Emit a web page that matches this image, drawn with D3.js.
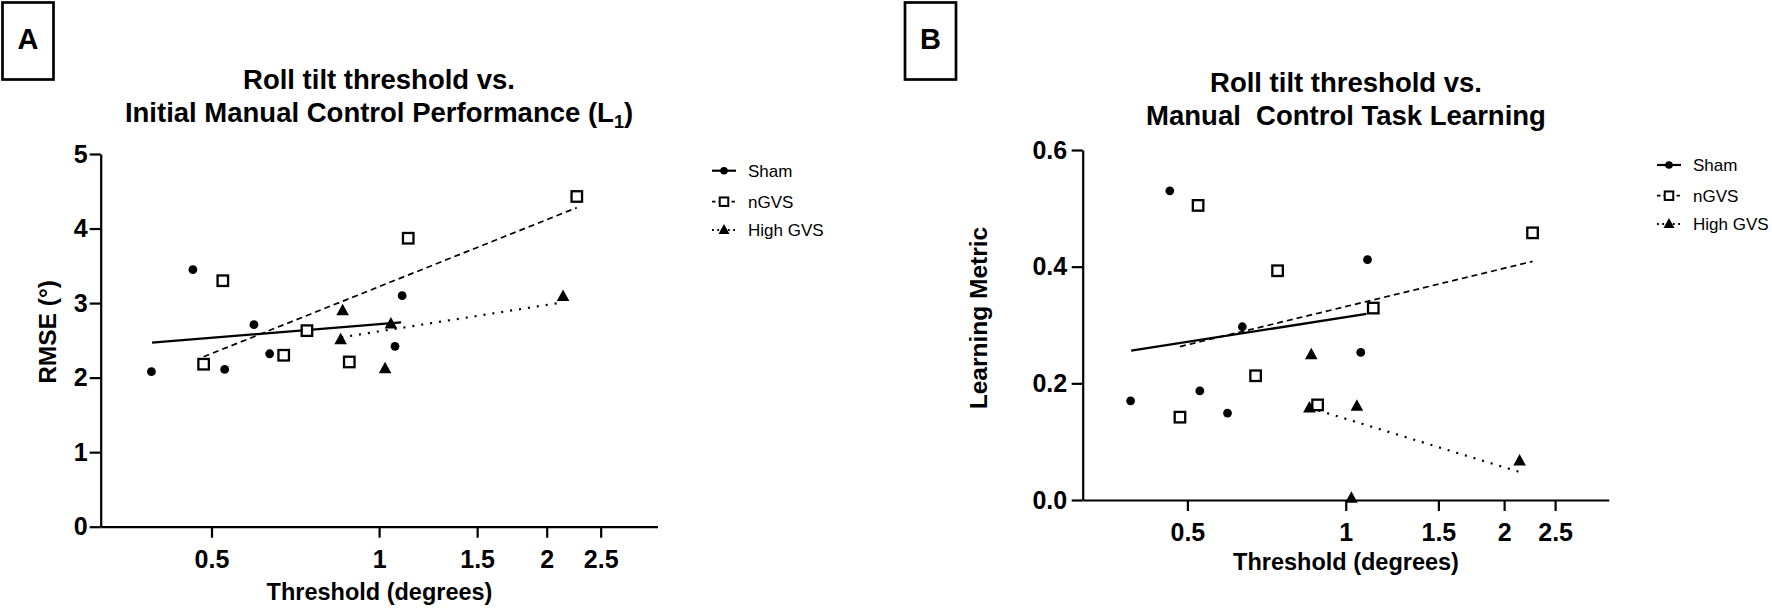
<!DOCTYPE html>
<html>
<head>
<meta charset="utf-8">
<script src="https://cdn.jsdelivr.net/npm/d3@7"></script>
<style>
	body { margin: 0; background: #fff; }
	svg { display: block; }
</style>
</head>
<body>
<div class="chart"></div>
<script>
// Threshold (degrees) per subject, one list per condition (same subjects in both panels).
var thresholdSham = [0.390, 0.463, 0.528, 0.596, 0.636, 1.100, 1.068],
	thresholdNGVS = [0.484, 0.524, 0.674, 0.742, 0.884, 1.128, 2.265],
	thresholdHigh = [0.860, 0.853, 1.050, 1.025, 2.140];

// Panel A: RMSE (deg).
var rmseSham = [2.08, 3.45, 2.11, 2.71, 2.32, 3.10, 2.42],
	rmseNGVS = [2.18, 3.30, 2.30, 2.63, 2.21, 3.87, 4.43],
	rmseHigh = [2.90, 2.51, 2.72, 2.12, 3.09];

// Panel B: learning metric.
var learnSham = [0.170, 0.530, 0.187, 0.149, 0.297, 0.412, 0.253],
	learnNGVS = [0.142, 0.505, 0.213, 0.393, 0.163, 0.329, 0.458],
	learnHigh = [0.249, 0.158, 0.161, 0.003, 0.067];

// Fit lines, [threshold, value] at both ends.
var fitRmseSham = [[0.391, 2.47], [1.095, 2.74]],
	fitRmseNGVS = [[0.484, 2.28], [2.265, 4.28]],
	fitRmseHigh = [[0.855, 2.54], [2.140, 3.01]];
var fitLearnSham = [[0.391, 0.256], [1.095, 0.319]],
	fitLearnNGVS = [[0.484, 0.263], [2.265, 0.409]],
	fitLearnHigh = [[0.855, 0.158], [2.140, 0.048]];

var groupNames = ['Sham', 'nGVS', 'High GVS'];
var thresholdTicks = [0.5, 1, 1.5, 2, 2.5];
var rmseTicks = [0, 1, 2, 3, 4, 5];
var learnTicks = [0, 0.2, 0.4, 0.6];

var fontFamily = '"Liberation Sans", Arial, Helvetica, sans-serif',
	axisWidth = 2.2;

var svg = d3.select('.chart').append('svg')
	.attr('width', 1772)
	.attr('height', 608)
	.attr('font-family', fontFamily)
	.attr('fill', '#000');
svg.append('rect').attr('width', 1772).attr('height', 608).attr('fill', '#fff');

function trianglePath(w, h) {
	return 'M0,' + (-h * 0.6) + 'L' + (w / 2) + ',' + (h * 0.4) + 'L' + (-w / 2) + ',' + (h * 0.4) + 'Z';
}

// draws one marker of the given group at 0,0 inside g
function marker(g, group, big) {
	if (group === 0) {
		g.append('circle').attr('r', big ? 4.4 : 3.8).attr('fill', '#000');
	} else if (group === 1) {
		var s = big ? 10.5 : 8.5;
		g.append('rect')
			.attr('x', -s / 2).attr('y', -s / 2)
			.attr('width', s).attr('height', s)
			.attr('fill', '#fff')
			.attr('stroke', '#000')
			.attr('stroke-width', big ? 2.3 : 2);
	} else {
		g.append('path')
			.attr('d', big ? trianglePath(12.6, 11.5) : trianglePath(11, 10))
			.attr('fill', '#000');
	}
}

var lineStyles = [
	{width: 2.3, dash: null},
	{width: 1.7, dash: '6,4'},
	{width: 2.2, dash: '2,7'}
];

function drawPanel(p) {
	var x = d3.scaleLog().domain([Math.pow(10, -0.5), Math.pow(10, 0.5)]).range([p.left, p.right]);
	var y = d3.scaleLinear().domain(p.yDomain).range([p.bottom, p.top]);

	// panel letter in its box
	svg.append('rect')
		.attr('x', p.boxX).attr('y', 2.5)
		.attr('width', 51).attr('height', 77)
		.attr('fill', 'none')
		.attr('stroke', '#000')
		.attr('stroke-width', 2.7);
	svg.append('text')
		.attr('x', p.boxX + 25.5).attr('y', 49)
		.attr('text-anchor', 'middle')
		.attr('font-size', 29)
		.attr('font-weight', 'bold')
		.text(p.letter);

	// title, two lines
	var title = svg.append('text')
		.attr('text-anchor', 'middle')
		.attr('font-size', 27.5)
		.attr('font-weight', 'bold')
		.style('white-space', 'pre');
	title.append('tspan').attr('x', p.titleX).attr('y', p.titleY).text(p.title[0]);
	var second = title.append('tspan').attr('x', p.titleX).attr('y', p.titleY + 32.5).text(p.title[1]);
	if (p.subscript) {
		second.append('tspan').attr('font-size', 18).attr('dy', 6).text(p.subscript);
		second.append('tspan').attr('dy', -6).text(')');
	}

	// axes
	var gx = svg.append('g')
		.attr('transform', 'translate(0,' + p.bottom + ')')
		.call(d3.axisBottom(x)
			.tickValues(thresholdTicks)
			.tickFormat(function(d) { return String(d); })
			.tickSize(11)
			.tickSizeOuter(0));
	var gy = svg.append('g')
		.attr('transform', 'translate(' + p.left + ',0)')
		.call(d3.axisLeft(y)
			.tickValues(p.yTicks)
			.tickFormat(p.yFormat)
			.tickSize(11)
			.tickPadding(p.yPad)
			.tickSizeOuter(0));
	[gx, gy].forEach(function(g) {
		g.attr('font-family', null).attr('font-size', null);
		g.select('.domain').attr('stroke-width', axisWidth);
		g.selectAll('.tick line').attr('stroke-width', axisWidth);
		g.selectAll('.tick text')
			.attr('font-size', 25)
			.attr('font-weight', 'bold')
			.attr('fill', '#000');
	});
	gx.selectAll('.tick text').attr('y', 41).attr('dy', null);

	svg.append('text')
		.attr('x', p.xLabelX).attr('y', p.xLabelY)
		.attr('text-anchor', 'middle')
		.attr('font-size', 23.5)
		.attr('font-weight', 'bold')
		.text('Threshold (degrees)');
	svg.append('text')
		.attr('transform', 'translate(' + p.yLabelX + ',' + p.yLabelY + ') rotate(-90)')
		.attr('text-anchor', 'middle')
		.attr('font-size', 24.5)
		.attr('font-weight', 'bold')
		.text(p.yLabel);

	// fit lines
	p.fits.forEach(function(fit, i) {
		svg.append('line')
			.attr('x1', x(fit[0][0])).attr('y1', y(fit[0][1]))
			.attr('x2', x(fit[1][0])).attr('y2', y(fit[1][1]))
			.attr('stroke', '#000')
			.attr('stroke-width', lineStyles[i].width)
			.attr('stroke-dasharray', lineStyles[i].dash);
	});

	// points
	p.series.forEach(function(s, i) {
		s.x.forEach(function(xv, j) {
			var g = svg.append('g')
				.attr('transform', 'translate(' + x(xv) + ',' + y(s.y[j]) + ')');
			marker(g, i, true);
		});
	});

	// legend
	groupNames.forEach(function(name, i) {
		var ly = p.legendY[i];
		svg.append('line')
			.attr('x1', p.legendX).attr('x2', p.legendX + 24)
			.attr('y1', ly).attr('y2', ly)
			.attr('stroke', '#000')
			.attr('stroke-width', i === 0 ? 2.2 : 1.8)
			.attr('stroke-dasharray', i === 0 ? null : i === 1 ? '3.5,3' : '1.8,3.5');
		var g = svg.append('g').attr('transform', 'translate(' + (p.legendX + 12) + ',' + ly + ')');
		marker(g, i, false);
		svg.append('text')
			.attr('x', p.legendX + 36).attr('y', ly)
			.attr('dy', '0.36em')
			.attr('font-size', 17)
			.text(name);
	});
}

drawPanel({
	letter: 'A', boxX: 2.5,
	title: ['Roll tilt threshold vs.', 'Initial Manual Control Performance (L'], subscript: '1',
	titleX: 379, titleY: 89,
	left: 100.7, right: 657.5, top: 154, bottom: 526.7,
	yDomain: [0, 5], yTicks: rmseTicks, yFormat: d3.format('d'), yPad: 2,
	yLabel: 'RMSE (°)', yLabelX: 56, yLabelY: 332,
	xLabelX: 379.5, xLabelY: 600,
	fits: [fitRmseSham, fitRmseNGVS, fitRmseHigh],
	series: [
		{x: thresholdSham, y: rmseSham},
		{x: thresholdNGVS, y: rmseNGVS},
		{x: thresholdHigh, y: rmseHigh}
	],
	legendX: 712, legendY: [170.7, 201.7, 230]
});

drawPanel({
	letter: 'B', boxX: 905,
	title: ['Roll tilt threshold vs.', 'Manual  Control Task Learning'], subscript: null,
	titleX: 1346, titleY: 92,
	left: 1082.7, right: 1608.8, top: 150, bottom: 500,
	yDomain: [0, 0.6], yTicks: learnTicks, yFormat: d3.format('.1f'), yPad: 4.5,
	yLabel: 'Learning Metric', yLabelX: 987, yLabelY: 318,
	xLabelX: 1346, xLabelY: 570,
	fits: [fitLearnSham, fitLearnNGVS, fitLearnHigh],
	series: [
		{x: thresholdSham, y: learnSham},
		{x: thresholdNGVS, y: learnNGVS},
		{x: thresholdHigh, y: learnHigh}
	],
	legendX: 1657, legendY: [165, 195.7, 224]
});
</script>
</body>
</html>
